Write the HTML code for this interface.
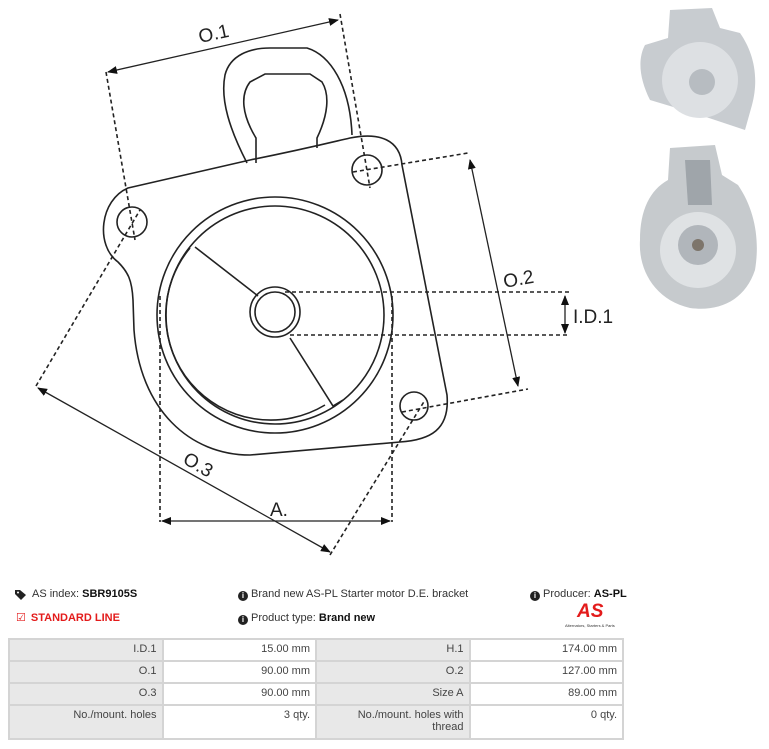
<!DOCTYPE html>
<html><head><meta charset="utf-8"><style>
body{margin:0;width:769px;height:749px;background:#fff;position:relative;overflow:hidden;font-family:"Liberation Sans",sans-serif;color:#333}
.t{position:absolute;font-size:11px;white-space:nowrap;line-height:13px}
b{color:#111}
.i{display:inline-block;width:10px;height:10px;border-radius:50%;background:#222;color:#fff;font-size:8px;line-height:10px;text-align:center;font-weight:bold;vertical-align:-1px;margin-right:3px}
table{position:absolute;left:8px;top:638px;border-collapse:collapse;font-size:11px;color:#444;table-layout:fixed;width:616px}
td{border:2px solid #d4d4d4;text-align:right;padding:3px 5px 0 4px;vertical-align:top}
td.l{background:#e8e8e8}
</style></head><body>
<svg width="769" height="580" style="position:absolute;left:0;top:0" fill="none" stroke="#222" stroke-width="1.6">
<defs><marker id="a" markerWidth="10" markerHeight="8" refX="9" refY="4" orient="auto-start-reverse" markerUnits="userSpaceOnUse"><path d="M0,0 L10,4 L0,8z" fill="#111" stroke="none"/></marker></defs>
<path d="M247,163 C230,130 220,100 225,75 C230,55 250,48 270,48 L307,48 C330,55 350,85 352,135"/>
<path d="M256,163 L256,138 C242,115 240,95 250,82 L265,74 L310,74 L322,82 C330,95 328,115 317,138 L317,148"/>
<path d="M128,188 L250,160 C300,150 320,145 350,138 C380,132 400,140 402,165 L447,395 C450,430 430,440 400,442 L250,455 C190,455 140,410 134,330 L133,300 C132,280 128,272 118,262 C95,245 100,200 128,188 Z"/>
<circle cx="132" cy="222" r="15"/><circle cx="367" cy="170" r="15"/><circle cx="414" cy="406" r="14"/>
<circle cx="275" cy="315" r="118"/>
<circle cx="275" cy="315" r="109"/>
<path d="M195,247 L258,296 M290,338 L333,406 L343,400"/>
<path d="M190,248 A105,105 0 0 0 325,405"/>
<circle cx="275" cy="312" r="25"/><circle cx="275" cy="312" r="20"/>
<g stroke-dasharray="4,3" stroke-width="1.6">
<path d="M106,72 L135,240 M340,14 L370,188 M353,172 L468,153 M402,412 L528,389 M285,292 L570,292 M290,335 L570,335 M36,386 L140,210 M330,555 L425,400 M160,296 L160,522 M392,296 L392,522"/>
</g>
<g stroke-width="1.3" marker-start="url(#a)" marker-end="url(#a)">
<path d="M108,72 L338,20"/><path d="M470,160 L518,386"/><path d="M565,296 L565,333"/><path d="M38,388 L330,552"/><path d="M162,521 L390,521"/>
</g>
<g fill="#222" stroke="none" font-family="Liberation Sans,sans-serif" font-size="19">
<text x="198" y="40" transform="rotate(-12 213 32)">O.1</text>
<text x="503" y="285" transform="rotate(-10 520 278)">O.2</text>
<text x="573" y="323">I.D.1</text>
<text x="183" y="472" transform="rotate(30 200 465)">O.3</text>
<text x="270" y="516">A.</text>
</g>
<g stroke="none">
<path d="M670,10 L712,8 L720,28 L740,33 C752,50 760,75 752,105 L745,130 L700,115 L650,100 C640,80 637,60 645,45 L668,38 Z" fill="#c8ccd0"/>
<circle cx="700" cy="80" r="38" fill="#dde0e3"/>
<circle cx="702" cy="82" r="13" fill="#b7bcc1"/>
<path d="M670,148 L715,145 L722,175 L738,185 C755,210 760,240 755,270 C745,300 720,312 690,308 C655,300 638,270 640,240 C640,210 650,190 668,180 Z" fill="#c6cacd"/>
<circle cx="698" cy="250" r="38" fill="#dfe2e4"/>
<circle cx="698" cy="245" r="20" fill="#b1b6bb"/>
<circle cx="698" cy="245" r="6" fill="#7d756b"/>
<path d="M685,160 L710,160 L712,205 L688,205 Z" fill="#9fa5aa"/>
</g>
</svg>
<svg style="position:absolute;left:15px;top:589px" width="14" height="11"><path d="M0,1 L5,1 L11,6 L6,11 L0,5Z" fill="#222"/><circle cx="3" cy="3.5" r="1" fill="#fff"/></svg>
<div class="t" style="left:32px;top:588px">AS index: <b>SBR9105S</b></div>
<div class="t" style="left:16px;top:612px;color:#e31b1b">&#9745; <span style="margin-left:2px;font-weight:bold">STANDARD LINE</span></div>
<div class="t" style="left:238px;top:588px"><span class="i">i</span>Brand new AS-PL Starter motor D.E. bracket</div>
<div class="t" style="left:238px;top:612px"><span class="i">i</span>Product type: <b>Brand new</b></div>
<div class="t" style="left:530px;top:588px"><span class="i">i</span>Producer: <b>AS-PL</b></div>
<div class="t" style="left:577px;top:602px;font-size:19px;font-weight:bold;font-style:italic;color:#e31b1b;line-height:20px">AS</div>
<div class="t" style="left:565px;top:623px;font-size:4px;line-height:5px">Alternators, Starters &amp; Parts</div>
<table>
<tr style="height:22px"><td class="l">I.D.1</td><td>15.00 mm</td><td class="l">H.1</td><td>174.00 mm</td></tr>
<tr style="height:22px"><td class="l">O.1</td><td>90.00 mm</td><td class="l">O.2</td><td>127.00 mm</td></tr>
<tr style="height:22px"><td class="l">O.3</td><td>90.00 mm</td><td class="l">Size A</td><td>89.00 mm</td></tr>
<tr style="height:34px"><td class="l">No./mount. holes</td><td>3 qty.</td><td class="l">No./mount. holes with<br>thread</td><td>0 qty.</td></tr>
</table>
</body></html>
